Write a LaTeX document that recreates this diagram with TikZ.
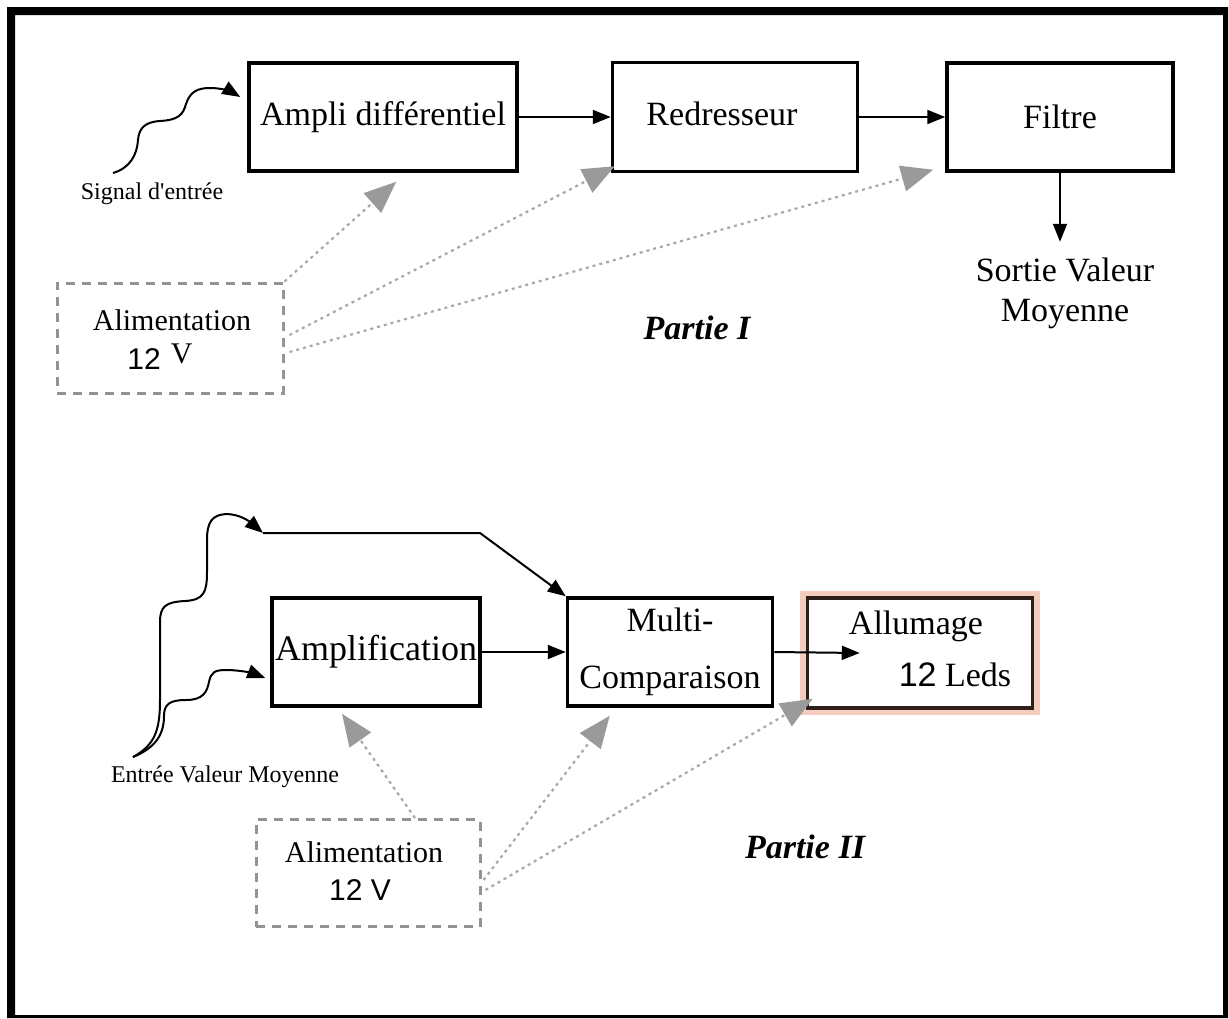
\documentclass[tikz,border=0pt]{standalone}
\usepackage{fontspec}
\setmainfont{Liberation Serif}[Ligatures=TeXOff]
\newfontfamily\arialf{Liberation Sans}
\usetikzlibrary{arrows.meta,calc}
\definecolor{glowc}{HTML}{F4CDBE}
\definecolor{alluborder}{HTML}{2E1F1B}
\definecolor{pwrgray}{HTML}{A8A8A8}
\definecolor{tipgray}{HTML}{9A9A9A}
\begin{document}
\begin{tikzpicture}[x=1pt,y=-1pt,
  blk/.style={draw=black, line width=3.5pt, fill=white, inner sep=0pt},
  alimbox/.style={draw=gray!85, line width=3pt, dash pattern=on 9pt off 7pt, inner sep=0pt},
  txt/.style={inner sep=0pt, font=\fontsize{34}{40}\selectfont, align=center},
  alimtxt/.style={inner sep=0pt, font=\fontsize{30}{38}\selectfont, align=center},
  smalltxt/.style={inner sep=0pt, font=\fontsize{24}{28}\selectfont},
  parttxt/.style={inner sep=0pt, font=\fontsize{34}{40}\selectfont\bfseries\itshape},
  flow/.style={line width=2pt, -{Triangle[length=18pt,width=14pt]}},
  power/.style={draw=pwrgray, line width=2.2pt, dash pattern=on 3pt off 4pt,
    -{Triangle[length=32pt,width=26pt,color=tipgray,fill=tipgray]}}
]
\useasboundingbox (0,0) rectangle (1229,1018);
% outer frame
\fill[black, even odd rule] (7,7) rectangle (1228,1018) (15,15) rectangle (1223,1015);

% ---------- Partie I ----------
\node[blk, minimum width=268pt, minimum height=108pt, font=\fontsize{34}{40}\selectfont] (amp) at (383,117) {Ampli différentiel};
\node[blk, minimum width=245pt, minimum height=109pt] (red) at (735,117) {};
\node[txt] (redt) at (722,114) {Redresseur};
\node[blk, minimum width=226pt, minimum height=108pt, font=\fontsize{34}{40}\selectfont] (fil) at (1060,117) {Filtre};
\node[txt] (sortie) at (1065,293) {Sortie Valeur\\Moyenne};
\node[parttxt] (p1) at (697,328) {Partie I};

\node[alimbox, minimum width=226pt, minimum height=110pt] (alim1) at (170,338) {};
\node[alimtxt] (alim1t) at (172,320) {Alimentation};
\node[alimtxt] (alim1v) at (160,357) {{\arialf 12}\hspace{10pt}\raisebox{6pt}{V}};

\node[smalltxt] (sig) at (152,194) {Signal d'entrée};
\coordinate (sigsrc) at (113,173);

\draw[flow] (amp.east) -- (red.west);
\draw[flow] (red.east) -- (fil.west);
\draw[flow] (fil.south) -- ($(fil.south)+(0,69)$);
\draw[flow] (sigsrc) .. controls (130,168) and (137,155) .. (138,140)
  .. controls (139,128) and (145,122) .. (160,121)
  .. controls (178,120) and (183,115) .. (186,104)
  .. controls (190,92) and (197,88) .. (210,88)
  .. controls (222,88) and (232,92) .. ($(amp.west)+(-7,-20)$);

\draw[power] (alim1.north east) -- ($(amp.south west)+(149,9)$);
\draw[power] ($(alim1.east)+(5,-3)$) -- ($(red.south west)+(4,-7)$);
\draw[power] ($(alim1.east)+(5,14)$) -- ($(fil.south west)+(-12,-3)$);

% ---------- Partie II ----------
\node[blk, minimum width=208pt, minimum height=108pt, font=\fontsize{36}{40}\selectfont] (ampl) at (376,652) {Amplification};
\node[blk, minimum width=205pt, minimum height=108pt, font=\fontsize{34}{57}\selectfont, align=center] (multi) at (670,652) {Multi-\\Comparaison};
\node[fill=glowc, minimum width=240pt, minimum height=124pt, inner sep=0pt] (alluglow) at (920,653) {};
\node[blk, draw=alluborder, minimum width=225pt, minimum height=110pt] (allu) at (920,653) {};
\node[txt] (allut) at (916,626) {Allumage};
\node[txt] (allul) at (955,675) {{\arialf 12} Leds};
\node[parttxt] (p2) at (805,847) {Partie II};

\node[alimbox, minimum width=224pt, minimum height=107pt] (alim2) at (368,873) {};
\node[alimtxt] (alim2t) at (364,852) {Alimentation};
\node[alimtxt] (alim2v) at (360,890) {{\arialf 12 V}};

\node[smalltxt] (entree) at (225,777) {Entrée Valeur Moyenne};
\coordinate (src) at (133,757);
\coordinate (jn) at (263,533);
\coordinate (bend) at (480,533);

\draw[flow] (ampl.east) -- (multi.west);
\draw[flow] (multi.east) -- ($(allu.west)+(54,0)$);
\draw[flow] (jn) -- (bend) -- (multi.north west);

\draw[flow] (src) .. controls (155,745) and (160,730) .. (160,700)
  -- (160,622) .. controls (160,606) and (166,602) .. (185,601)
  .. controls (204,600) and (207,592) .. (207,572)
  -- (207,540) .. controls (207,522) and (212,515) .. (226,514)
  .. controls (240,514) and (250,522) .. (jn);
\draw[flow] (src) .. controls (155,748) and (164,735) .. (164,716)
  .. controls (164,704) and (170,700) .. (186,700)
  .. controls (203,700) and (207,692) .. (209,682)
  .. controls (211,672) and (215,670) .. (226,670)
  .. controls (242,670) and (255,674) .. ($(ampl.west)+(-5,26)$);

\draw[power] ($(alim2.north)+(47,0)$) -- ($(ampl.south)+(-34,6)$);
\draw[power] ($(alim2.east)+(2,7)$) -- ($(multi.south west)+(44,8)$);
\draw[power] ($(alim2.east)+(4,17)$) -- ($(allu.south west)+(7,-11)$);
\end{tikzpicture}
\end{document}
